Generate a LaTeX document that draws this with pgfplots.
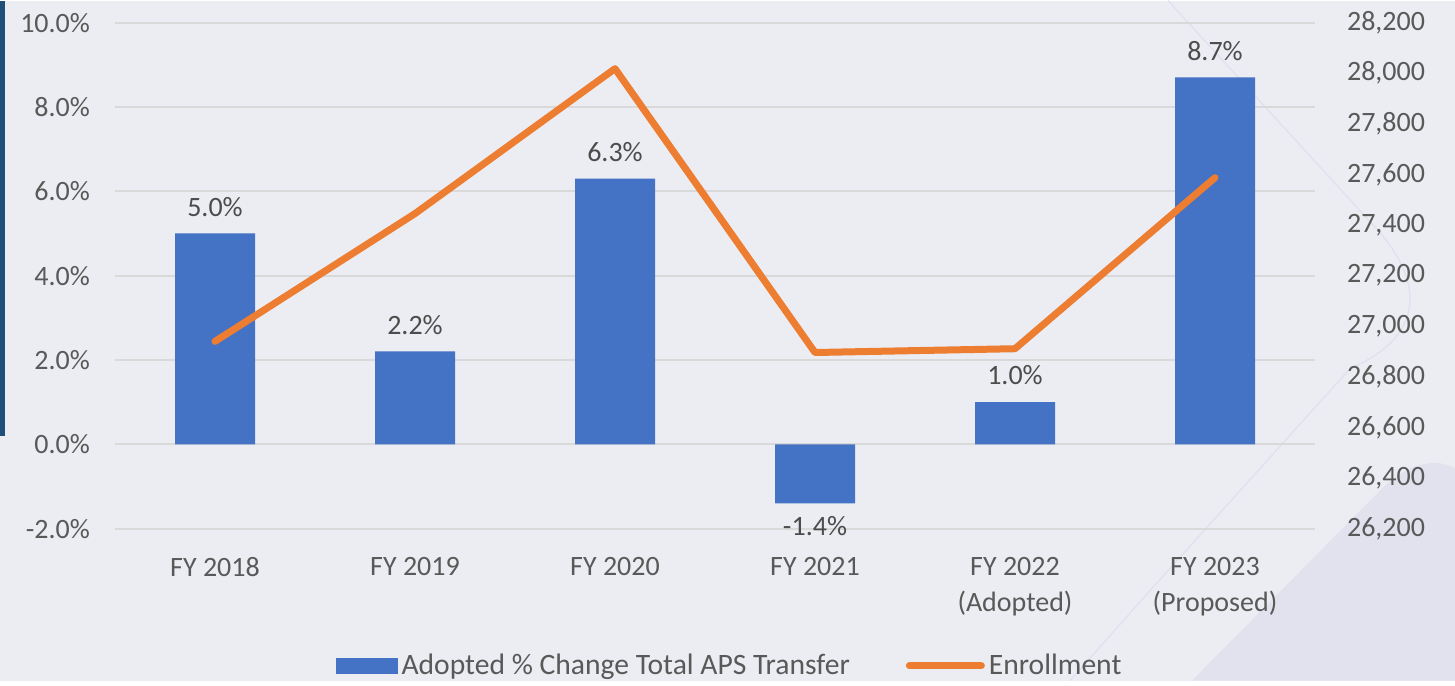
\documentclass[border=0pt]{standalone}
\usepackage{fontspec}
\setmainfont{Carlito}
\usepackage{pgfplots}
\pgfplotsset{compat=1.18}
\definecolor{bgcol}{HTML}{ECEDF3}
\definecolor{bgdark}{HTML}{E1E2ED}
\definecolor{decoline}{HTML}{DDE1F0}
\definecolor{slideblue}{HTML}{1F4E79}
\definecolor{barblue}{HTML}{4472C4}
\definecolor{lineorange}{HTML}{ED7D31}
\definecolor{txtgray}{HTML}{595959}
\definecolor{gridgray}{HTML}{D9D9D9}
\pgfkeys{/pgf/number format/assume math mode=true}

\begin{document}
\begin{tikzpicture}
% slide background, 1 px = 0.5pt
\fill[bgcol] (0,0) rectangle (727.5pt,340pt);
\fill[bgdark] (596pt,0pt) -- (692pt,97pt) .. controls (703pt,108pt) and (718pt,112pt) .. (727.5pt,106pt) -- (727.5pt,0pt) -- cycle;
\draw[decoline, line width=0.6pt] (584pt,340pt) -- (690pt,224pt) .. controls (712pt,198pt) and (712pt,172pt) .. (675pt,156pt) -- (575pt,45pt) -- (535pt,0pt);
\fill[slideblue] (0pt,340pt) rectangle (2.5pt,122.5pt);

\begin{axis}[
    at={(57.5pt,76pt)}, anchor=south west,
    width=600pt, height=253pt, scale only axis,
    xmin=-0.5, xmax=5.5,
    ymin=-2, ymax=10,
    xtick={0,1,2,3,4,5},
    xticklabels={FY 2018, FY 2019, FY 2020, FY 2021, {FY 2022\\(Adopted)}, {FY 2023\\(Proposed)}},
    ytick={-2,0,2,4,6,8,10},
    yticklabel={\pgfmathprintnumber[fixed,fixed zerofill,precision=1]{\tick}\%},
    axis line style={draw=none},
    major tick length=0pt,
    ymajorgrids,
    grid style={gridgray, line width=1pt},
    tick label style={font=\fontsize{14}{18}\selectfont, text=txtgray},
    xticklabel style={align=center, yshift=-11pt},
    yticklabel style={xshift=-9pt},
]
\addplot[ybar, bar width=40pt, fill=barblue, draw=none,
    visualization depends on={rawy \as \rawy},
    nodes near coords={\pgfmathprintnumber[fixed,fixed zerofill,precision=1]{\rawy}\%},
    nodes near coords style={font=\fontsize{14}{17}\selectfont, text=txtgray!85!black,
        yshift={(\rawy>0)*5pt + (\rawy<0)*(-3pt)}},
] coordinates {(0,5.0) (1,2.2) (2,6.3) (3,-1.4) (4,1.0) (5,8.7)};
\end{axis}

\begin{axis}[
    at={(57.5pt,76pt)}, anchor=south west,
    width=600pt, height=253pt, scale only axis,
    xmin=-0.5, xmax=5.5,
    ymin=26200, ymax=28200,
    axis x line=none,
    axis y line*=right,
    axis line style={draw=none},
    major tick length=0pt,
    ytick={26200,26400,...,28200},
    scaled y ticks=false,
    yticklabel={\pgfmathprintnumber[fixed,precision=0,1000 sep={,}]{\tick}},
    tick label style={font=\fontsize{14}{18}\selectfont, text=txtgray},
    yticklabel style={xshift=12.5pt},
    legend columns=2,
    legend style={draw=none, fill=none, at={(rel axis cs:0.513,-0.271)}, anchor=center,
        font=\fontsize{14.8}{17}\selectfont, text=txtgray,
        /tikz/every even column/.append style={column sep=26pt}},
]
\addlegendimage{legend image code/.code={\fill[barblue] (0pt,-3.75pt) rectangle (30.5pt,3.75pt);}}
\addlegendentry{Adopted \% Change Total APS Transfer}
\addplot[lineorange, line width=3.5pt, line join=round, line cap=round,
    legend image code/.code={\draw[lineorange, line width=3.5pt, line cap=round] (0pt,0pt) -- (36pt,0pt);}]
    coordinates {(0,26940) (1,27445) (2,28018) (3,26896) (4,26911) (5,27587)};
\addlegendentry{Enrollment}
\end{axis}
\end{tikzpicture}
\end{document}
